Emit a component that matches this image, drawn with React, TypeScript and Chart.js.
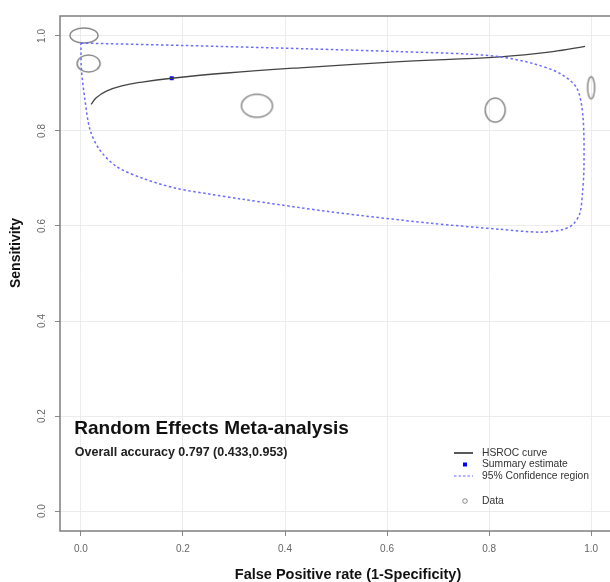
import React, { useEffect, useRef } from "react";
import { Chart, registerables } from "chart.js";

Chart.register(...registerables);

// ---- data ----
const tickValues = [0, 0.2, 0.4, 0.6, 0.8, 1.0];

const hsrocX = [0.02, 0.03, 0.05, 0.08, 0.12, 0.178, 0.286, 0.429, 0.625, 0.822, 0.925, 0.988];
const hsrocY = [0.856, 0.870, 0.884, 0.895, 0.903, 0.911, 0.922, 0.933, 0.946, 0.956, 0.967, 0.978];

const summaryX = [0.178];
const summaryY = [0.911];

const confX = [0.0, 0.2, 0.44, 0.625, 0.756, 0.822, 0.886, 0.939, 0.972, 0.984, 0.986, 0.983, 0.978, 0.965, 0.946, 0.9, 0.822, 0.684, 0.488, 0.312, 0.253, 0.188, 0.122, 0.07, 0.037, 0.018, 0.008, 0.001, 0.0];
const confY = [0.985, 0.980, 0.973, 0.967, 0.962, 0.956, 0.942, 0.921, 0.890, 0.830, 0.725, 0.669, 0.627, 0.604, 0.593, 0.587, 0.593, 0.606, 0.630, 0.657, 0.667, 0.679, 0.700, 0.725, 0.760, 0.802, 0.865, 0.93, 0.985];

const studyX = [0.006, 0.015, 0.345, 0.812, 1.0];
const studyY = [1.001, 0.942, 0.853, 0.844, 0.891];
// ellipse sizes (px)
const studyW = [28, 23, 31, 20, 7];
const studyH = [15, 17, 23, 24, 22];

const titleText = "Random Effects Meta-analysis";
const subtitleText = "Overall accuracy 0.797 (0.433,0.953)";
const xTitle = "False Positive rate (1-Specificity)";
const yTitle = "Sensitivity";
const legendLabels = ["HSROC curve", "Summary estimate", "95% Confidence region", "Data"];

const FONT = "'Liberation Sans', Arial, sans-serif";

function makeEllipse(w: number, h: number): HTMLCanvasElement {
  const c = document.createElement("canvas");
  c.width = w + 4;
  c.height = h + 4;
  const ctx = c.getContext("2d")!;
  ctx.strokeStyle = "#8a8a8a";
  ctx.lineWidth = 1.5;
  ctx.beginPath();
  ctx.ellipse(c.width / 2, c.height / 2, w / 2, h / 2, 0, 0, Math.PI * 2);
  ctx.stroke();
  return c;
}

const decorPlugin = {
  id: "decor",
  afterDraw(chart: any) {
    const { ctx, chartArea, scales } = chart;
    const xs = scales.x;
    const ys = scales.y;
    ctx.save();
    // frame
    ctx.strokeStyle = "#7f7f7f";
    ctx.lineWidth = 1.5;
    ctx.beginPath();
    ctx.moveTo(chartArea.right + 2, chartArea.top);
    ctx.lineTo(chartArea.left, chartArea.top);
    ctx.lineTo(chartArea.left, chartArea.bottom);
    ctx.lineTo(chartArea.right + 2, chartArea.bottom);
    ctx.stroke();

    // y tick labels (rotated)
    ctx.fillStyle = "#666";
    ctx.font = `10px ${FONT}`;
    ctx.textAlign = "center";
    ctx.textBaseline = "middle";
    ys.ticks.forEach((t: any) => {
      const py = ys.getPixelForValue(t.value);
      ctx.save();
      ctx.translate(42, py);
      ctx.rotate(-Math.PI / 2);
      ctx.fillText(t.value.toFixed(1), 0, 0);
      ctx.restore();
    });

    // axis titles
    ctx.fillStyle = "#111";
    ctx.font = `bold 14.5px ${FONT}`;
    ctx.fillText(xTitle, 348, 575);
    ctx.save();
    ctx.translate(16, 253);
    ctx.rotate(-Math.PI / 2);
    ctx.font = `bold 14px ${FONT}`;
    ctx.fillText(yTitle, 0, 0);
    ctx.restore();

    // annotation text
    ctx.textAlign = "left";
    ctx.fillStyle = "#111";
    ctx.font = `bold 19px ${FONT}`;
    ctx.fillText(titleText, xs.getPixelForValue(-0.013), ys.getPixelForValue(0.174));
    ctx.font = `bold 12.5px ${FONT}`;
    ctx.fillStyle = "#222";
    ctx.fillText(subtitleText, xs.getPixelForValue(-0.012), ys.getPixelForValue(0.123));

    // legend
    const lx = 454;
    const tx = 482;
    const rows = [453, 464.5, 476, 501];
    ctx.font = `10.3px ${FONT}`;
    ctx.fillStyle = "#333";
    legendLabels.forEach((l, i) => ctx.fillText(l, tx, rows[i]));
    ctx.strokeStyle = "#222";
    ctx.lineWidth = 1.5;
    ctx.beginPath();
    ctx.moveTo(lx, rows[0]);
    ctx.lineTo(lx + 19, rows[0]);
    ctx.stroke();
    ctx.fillStyle = "#0000ff";
    ctx.fillRect(lx + 9, rows[1] - 2, 4, 4);
    ctx.strokeStyle = "#6666ff";
    ctx.lineWidth = 1;
    ctx.setLineDash([2.5, 2]);
    ctx.beginPath();
    ctx.moveTo(lx, rows[2]);
    ctx.lineTo(lx + 19, rows[2]);
    ctx.stroke();
    ctx.setLineDash([]);
    ctx.strokeStyle = "#888";
    ctx.beginPath();
    ctx.arc(lx + 11, rows[3], 2.3, 0, Math.PI * 2);
    ctx.stroke();
    ctx.restore();
  },
};

export default function App() {
  const ref = useRef<HTMLCanvasElement>(null);
  useEffect(() => {
    if (!ref.current) return;
    const ellipses = studyW.map((w, i) => makeEllipse(w, studyH[i]));
    const chart = new Chart(ref.current, {
      type: "scatter",
      data: {
        datasets: [
          {
            label: "95% Confidence region",
            data: confX.map((x, i) => ({ x, y: confY[i] })),
            showLine: true,
            borderColor: "#6b6bff",
            borderWidth: 1.5,
            borderDash: [2.5, 2.5],
            pointRadius: 0,
            tension: 0.3,
            fill: false,
          },
          {
            label: "HSROC curve",
            data: hsrocX.map((x, i) => ({ x, y: hsrocY[i] })),
            showLine: true,
            borderColor: "#444",
            borderWidth: 1.3,
            pointRadius: 0,
            tension: 0.4,
            fill: false,
          },
          {
            label: "Data",
            data: studyX.map((x, i) => ({ x, y: studyY[i] })),
            showLine: false,
            pointStyle: (c: any) => ellipses[c.dataIndex] as any,
            pointRadius: 10,
          } as any,
          {
            label: "Summary estimate",
            data: summaryX.map((x, i) => ({ x, y: summaryY[i] })),
            showLine: false,
            pointStyle: "rect",
            pointRadius: 2.8,
            backgroundColor: "#0000ff",
            borderColor: "#0000ff",
            borderWidth: 0,
          },
        ],
      },
      options: {
        responsive: false,
        animation: false,
        devicePixelRatio: 1,
        layout: { autoPadding: false, padding: { top: 16, left: 0, right: 0, bottom: 0 } },
        plugins: { legend: { display: false }, tooltip: { enabled: false } },
        scales: {
          x: {
            type: "linear",
            min: -0.041,
            max: 1.037,
            afterBuildTicks: (s: any) => {
              s.ticks = tickValues.map((v) => ({ value: v }));
            },
            afterFit: (s: any) => {
              s.height = 51;
              s.paddingLeft = 0;
              s.paddingRight = 0;
            },
            grid: { color: "#ececec", tickColor: "#888", tickLength: 5, lineWidth: 1 },
            border: { display: false },
            ticks: {
              color: "#666",
              font: { size: 10, family: FONT },
              padding: 7,
              maxRotation: 0,
              callback: (v: any) => Number(v).toFixed(1),
            },
          },
          y: {
            type: "linear",
            min: -0.042,
            max: 1.042,
            afterBuildTicks: (s: any) => {
              s.ticks = tickValues.map((v) => ({ value: v }));
            },
            afterFit: (s: any) => {
              s.width = 60;
              s.paddingTop = 0;
              s.paddingBottom = 0;
            },
            grid: { color: "#ececec", tickColor: "#888", tickLength: 5, lineWidth: 1 },
            border: { display: false },
            ticks: { display: false },
          },
        },
      },
      plugins: [decorPlugin],
    } as any);
    return () => chart.destroy();
  }, []);
  return (
    <div style={{ position: "fixed", left: 0, top: 0, width: 610, height: 582, background: "#fff" }}>
      <canvas ref={ref} width={610} height={582} style={{ width: 610, height: 582, display: "block" }} />
    </div>
  );
}
